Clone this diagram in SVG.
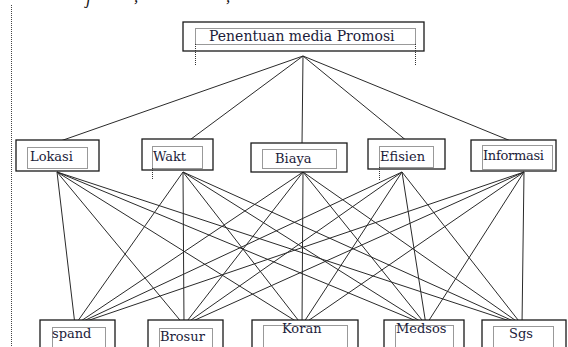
<svg xmlns="http://www.w3.org/2000/svg" width="568" height="347" viewBox="0 0 568 347">
  <style>
    .box { fill: #ffffff; stroke: #1a1a1a; stroke-width: 1.3; }
    .frame { fill: none; stroke: #333; stroke-width: 1; stroke-dasharray: 1 1; }
    .lbl { font-family: "DejaVu Serif", "Liberation Serif", serif; font-size: 13px; fill: #1c1c3a; }
    .top { font-size: 14px; }
    .edge { stroke: #2a2a2a; stroke-width: 1; fill: none; }
    .side { fill: none; stroke: #444; stroke-width: 1; stroke-dasharray: 1 1; }
    .cut { font-family: "Liberation Serif", serif; font-style: italic; font-size: 17px; fill: #111; }
  </style>

  <!-- page margin guide and the clipped line of text above it -->
  <line class="side" x1="11.5" y1="5" x2="11.5" y2="347"/>
  <text class="cut" x="86" y="4">j</text>
  <text class="cut" x="134" y="2">,</text>
  <text class="cut" x="226" y="2">,</text>

  <!-- connectors -->
  <g id="connectors">
    <!-- goal to criteria -->
    <path class="edge" d="M303 56 L49 145 M303 56 L183 145 M303 56 L302 144 M303 56 L413 146 M303 56 L523 146"/>
    <!-- criteria to alternatives -->
    <path class="edge" d="M57 172 L75 325 M57 172 L184 325 M57 172 L302 325 M57 172 L426 325 M57 172 L522 325"/>
    <path class="edge" d="M183 172 L75 325 M183 172 L184 325 M183 172 L302 325 M183 172 L426 325 M183 172 L522 325"/>
    <path class="edge" d="M303 172 L75 325 M303 172 L184 325 M303 172 L302 325 M303 172 L426 325 M303 172 L522 325"/>
    <path class="edge" d="M402 172 L75 325 M402 172 L184 325 M402 172 L302 325 M402 172 L426 325 M402 172 L522 325"/>
    <path class="edge" d="M524 172 L75 325 M524 172 L184 325 M524 172 L302 325 M524 172 L426 325 M524 172 L522 325"/>
  </g>

  <!-- goal -->
  <g id="goal">
    <rect class="box" x="183" y="22" width="241" height="29"/>
    <rect class="frame" x="195.5" y="28.5" width="220" height="16"/>
    <line class="frame" x1="195.5" y1="44" x2="195.5" y2="65"/>
    <line class="frame" x1="415.5" y1="44" x2="415.5" y2="65"/>
    <text class="lbl top" x="209" y="41">Penentuan media Promosi</text>
  </g>

  <!-- criteria -->
  <g id="lokasi">
    <rect class="box" x="16" y="140" width="83" height="31"/>
    <rect class="frame" x="27.5" y="147.5" width="60" height="21"/>
    <text class="lbl" x="30" y="161">Lokasi</text>
  </g>
  <g id="wakt">
    <rect class="box" x="142" y="139" width="71" height="31"/>
    <rect class="frame" x="152.5" y="146.5" width="50" height="22"/>
    <line class="frame" x1="152.5" y1="168" x2="152.5" y2="180"/>
    <text class="lbl" x="153" y="161">Wakt</text>
  </g>
  <g id="biaya">
    <rect class="box" x="251" y="143" width="96" height="29"/>
    <rect class="frame" x="262.5" y="149.5" width="74" height="19"/>
    <text class="lbl" x="275" y="163">Biaya</text>
  </g>
  <g id="efisien">
    <rect class="box" x="368" y="139" width="77" height="30"/>
    <rect class="frame" x="379.5" y="146.5" width="54" height="21"/>
    <line class="frame" x1="379.5" y1="167" x2="379.5" y2="180"/>
    <text class="lbl" x="380" y="161">Efisien</text>
  </g>
  <g id="informasi">
    <rect class="box" x="471" y="140" width="85" height="31"/>
    <rect class="frame" x="482.5" y="145.5" width="70" height="24"/>
    <text class="lbl" x="483" y="160" textLength="61">Informasi</text>
  </g>

  <!-- alternatives -->
  <g id="spand">
    <rect class="box" x="40" y="320" width="75" height="40"/>
    <rect class="frame" x="52.5" y="327.5" width="53" height="30"/>
    <text class="lbl" x="52" y="338">spand</text>
  </g>
  <g id="brosur">
    <rect class="box" x="148" y="320" width="75" height="40"/>
    <rect class="frame" x="159.5" y="328.5" width="53" height="30"/>
    <text class="lbl" x="160" y="341">Brosur</text>
  </g>
  <g id="koran">
    <rect class="box" x="252" y="320" width="106" height="40"/>
    <rect class="frame" x="263.5" y="325.5" width="84" height="30"/>
    <text class="lbl" x="282" y="333">Koran</text>
  </g>
  <g id="medsos">
    <rect class="box" x="384" y="320" width="80" height="40"/>
    <rect class="frame" x="395.5" y="325.5" width="58" height="30"/>
    <text class="lbl" x="396" y="333">Medsos</text>
  </g>
  <g id="sgs">
    <rect class="box" x="482" y="320" width="84" height="40"/>
    <rect class="frame" x="493.5" y="326.5" width="60" height="30"/>
    <text class="lbl" x="509" y="338">Sgs</text>
  </g>
</svg>
